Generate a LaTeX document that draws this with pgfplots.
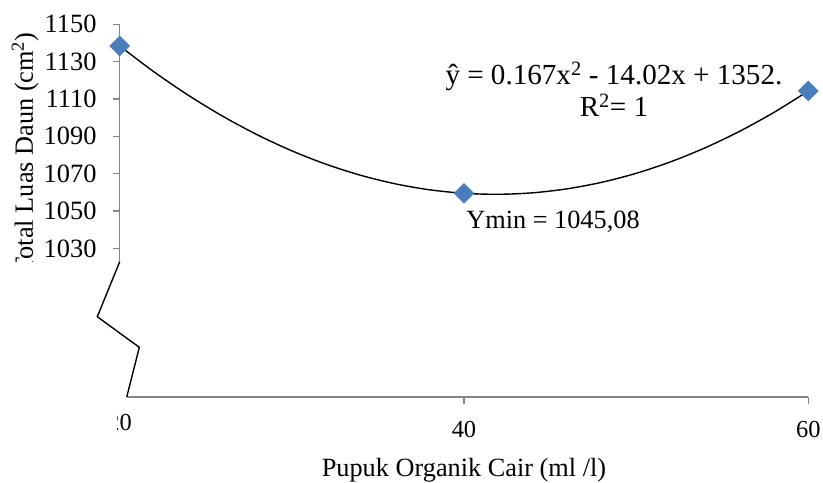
\documentclass[border=0pt]{standalone}
\usepackage{fontspec}
\setmainfont{Liberation Serif}
\usepackage{pgfplots}
\pgfplotsset{compat=1.18}
\definecolor{axgray}{HTML}{868686}
\definecolor{mkblue}{HTML}{4A7EBB}
\newcommand{\bigf}{\fontsize{26.4}{31.7}\selectfont}
\newcommand{\eqf}{\fontsize{29.2}{35}\selectfont}
\newcommand{\ytf}{\fontsize{26.5}{32}\selectfont}
\newcommand{\xtf}{\fontsize{24.5}{29}\selectfont}
\begin{document}
\begin{tikzpicture}[font=\bigf]
\begin{axis}[
  scale only axis, width=688.6bp, height=372.7bp,
  xmin=20, xmax=60, ymin=950.4, ymax=1150,
  axis x line=bottom, axis y line=left,
  axis line style={draw=none,-},
  clip=false,
  xtick={40,60},
  extra x ticks={20},
  extra x tick style={major tick length=0pt},
  ytick={1030,1050,...,1150},
  tick align=outside,
  major tick length=7bp,
  every tick/.style={axgray, line width=1.1bp},
  /pgf/number format/assume math mode=true,
  /pgf/number format/1000 sep={},
  xticklabel style={font=\xtf, anchor=north, inner sep=0pt, yshift=-17bp},
  yticklabel style={font=\ytf, anchor=east, inner sep=0pt, xshift=-16bp},
]
% axis lines (broken y axis)
\draw[axgray, line width=1.1bp] (axis cs:20,1150) -- (axis cs:20,1022.8);
\draw[axgray, line width=1.1bp] (axis cs:20.41,950.4) -- (axis cs:60,950.4);

% fitted quadratic trendline
\addplot[black, line width=1.4bp, smooth, no marks] coordinates {
 (20,1138.40) (22,1124.49) (24,1111.92) (26,1100.69) (28,1090.80)
 (30,1082.24) (32,1075.02) (34,1069.13) (36,1064.58) (38,1061.37)
 (40,1059.50) (42,1058.96) (44,1059.76) (46,1061.90) (48,1065.38)
 (50,1070.19) (52,1076.34) (54,1083.82) (56,1092.64) (58,1102.80)
 (60,1114.30)
};
% observed data
\addplot[only marks, mark=square*, mark size=7.07bp,
  mark options={rotate=45, fill=mkblue, draw=mkblue}] coordinates {
 (20,1138.4) (40,1059.5) (60,1114.3)
};

\node[anchor=base, font=\eqf] at (axis cs:48.71,1117.5) {ŷ = 0.167x\textsuperscript{2} - 14.02x + 1352.};
\node[anchor=base, font=\eqf] at (axis cs:48.71,1100.5) {R\textsuperscript{2}= 1};
\node[anchor=base] at (axis cs:45.17,1040.9) {Ymin = 1045,08};

\node[anchor=base] at (axis description cs:0.5,-0.212) {Pupuk Organik Cair (ml /l)};
\node[rotate=90, anchor=base] at (axis description cs:-0.1259,0.6547) {Total Luas Daun (cm\textsuperscript{2})};

\coordinate (c1) at (axis cs:12.5,1022.7);
\coordinate (c2) at (axis cs:19.87,924.7);
\coordinate (z1) at (axis cs:20,1022.8);
\coordinate (z2) at (axis cs:18.70,993.4);
\coordinate (z3) at (axis cs:21.14,977.0);
\coordinate (z4) at (axis cs:20.41,950.4);
\coordinate (bl) at (axis description cs:-0.1738,-0.2281);
\coordinate (tr) at (axis description cs:1.02135,1.0652);
\end{axis}
\fill[white] (c1) rectangle (c2);
\draw[black, line width=1.4bp] (z1) -- (z2) -- (z3) -- (z4);
\pgfresetboundingbox
\useasboundingbox (bl) rectangle (tr);
\end{tikzpicture}
\end{document}
